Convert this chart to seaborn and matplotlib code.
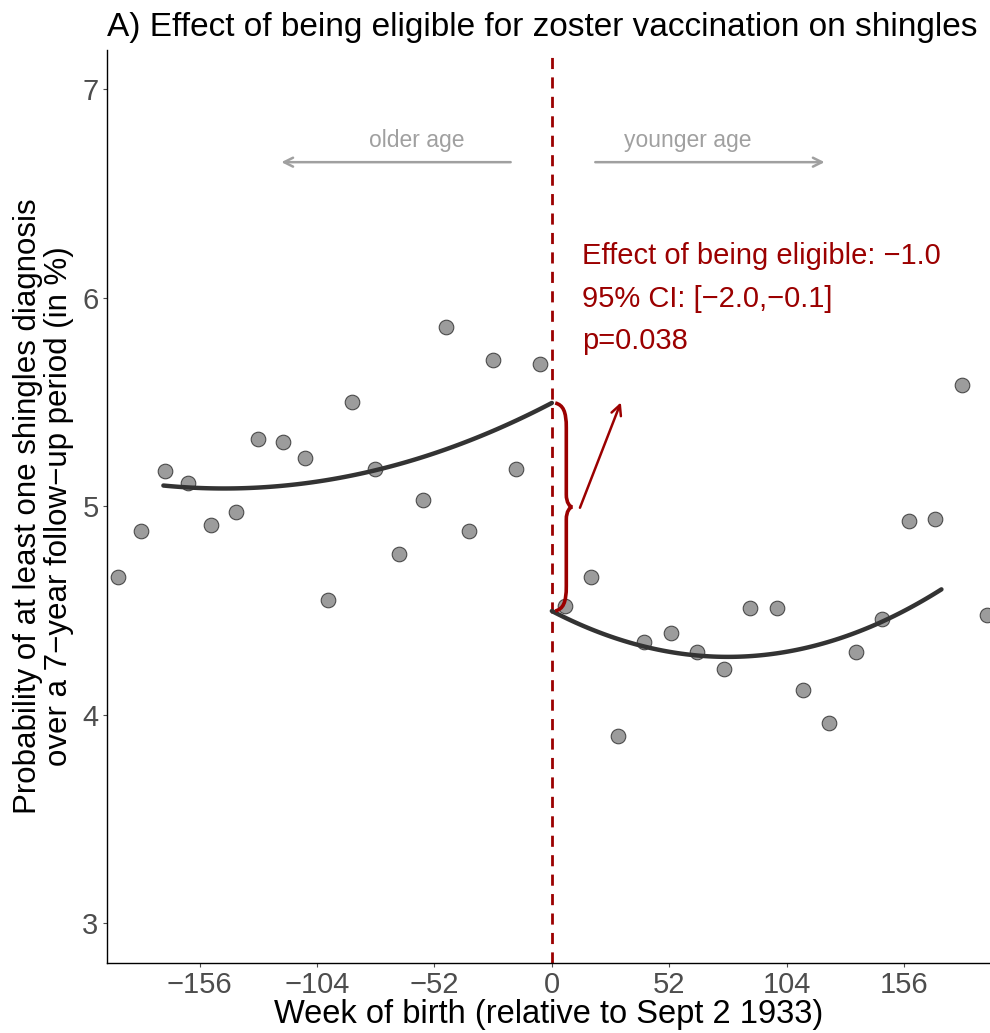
import numpy as np
import pandas as pd
import matplotlib
matplotlib.use("Agg")
import matplotlib.pyplot as plt
import seaborn as sns
from matplotlib.path import Path
from matplotlib.patches import PathPatch

# binned means, weeks relative to the cutoff
weeks_before = [-192.3, -182.1, -171.5, -161.3, -150.7, -140.0, -129.9, -119.2, -109.1, -98.9,
                -88.3, -78.1, -67.5, -56.9, -46.7, -36.5, -25.9, -15.7, -5.1]
prob_before = [4.66, 4.88, 5.17, 5.11, 4.91, 4.97, 5.32, 5.31, 5.23, 4.55,
               5.50, 5.18, 4.77, 5.03, 5.86, 4.88, 5.70, 5.18, 5.68]
weeks_after = [6.0, 17.5, 29.4, 40.9, 52.9, 64.4, 76.3, 87.8, 99.8, 111.3,
               122.8, 134.7, 146.2, 158.2, 169.7, 181.6, 192.7]
prob_after = [4.52, 4.66, 3.90, 4.35, 4.39, 4.30, 4.22, 4.51, 4.51, 4.12,
              3.96, 4.30, 4.46, 4.93, 4.94, 5.58, 4.48]

# fitted curve
fit_weeks_before = [-172, -145, -120, -100, -78, -50, -25, 0]
fit_before = [5.099, 5.085, 5.097, 5.124, 5.173, 5.261, 5.366, 5.495]
fit_weeks_after = [0, 20, 40, 60, 78, 100, 120, 146, 172.5]
fit_after = [4.497, 4.399, 4.329, 4.289, 4.277, 4.295, 4.341, 4.445, 4.601]

x_ticks = [-156, -104, -52, 0, 52, 104, 156]
y_ticks = [3, 4, 5, 6, 7]
effect_lines = ["Effect of being eligible: \u22121.0",
                "95% CI: [\u22122.0,\u22120.1]",
                "p=0.038"]

red = "#9B0000"
gray = "#a0a0a0"

sns.set_theme(style="ticks")
plt.rcParams["font.family"] = ["Liberation Sans", "DejaVu Sans"]

df = pd.DataFrame({
    "week": weeks_before + weeks_after,
    "prob": prob_before + prob_after,
})

fig = plt.figure(figsize=(9.9, 10.33), dpi=100)
ax = fig.add_axes([0.108, 0.068, 0.892, 0.884])

sns.scatterplot(data=df, x="week", y="prob", color="#9c9c9c", edgecolor="#4a4a4a",
                linewidth=0.8, s=110, ax=ax, zorder=3)

# quadratic fit curves on each side of the cutoff
for fx, fy in [(fit_weeks_before, fit_before), (fit_weeks_after, fit_after)]:
    sns.regplot(x=fx, y=fy, order=2, scatter=False, ci=None, truncate=True, ax=ax,
                line_kws=dict(color="#333333", lw=3.2, zorder=4))

top = fit_before[-1]
bottom = fit_after[0]

ax.axvline(0, color=red, lw=2, ls=(0, (4, 3)), zorder=2)

# curly brace between the two fitted values at the cutoff
mid = (top + bottom) / 2
x0, x1, x2 = 1.5, 6.4, 9.1
verts = [(x0, top), (5.0, top - 0.01), (x1, top - 0.04), (x1, top - 0.12),
         (x1, mid + 0.06),
         (x1, mid + 0.02), (8.0, mid), (x2, mid),
         (8.0, mid), (x1, mid - 0.02), (x1, mid - 0.06),
         (x1, bottom + 0.12),
         (x1, bottom + 0.04), (5.0, bottom + 0.01), (x0, bottom)]
codes = [Path.MOVETO, Path.CURVE4, Path.CURVE4, Path.CURVE4,
         Path.LINETO,
         Path.CURVE4, Path.CURVE4, Path.CURVE4,
         Path.CURVE4, Path.CURVE4, Path.CURVE4,
         Path.LINETO,
         Path.CURVE4, Path.CURVE4, Path.CURVE4]
ax.add_patch(PathPatch(Path(verts, codes), fill=False, edgecolor=red, lw=2.6, zorder=5))

ax.annotate("", xy=(31, 5.51), xytext=(12, 4.98),
            arrowprops=dict(arrowstyle="->", color=red, lw=1.8, mutation_scale=18))

for i, line in enumerate(effect_lines):
    ax.text(13.5, 6.2 - i * 0.205, line, color=red, fontsize=21, va="center", ha="left")

ax.annotate("", xy=(-121, 6.65), xytext=(-17, 6.65),
            arrowprops=dict(arrowstyle="->", color=gray, lw=1.8, mutation_scale=16))
ax.annotate("", xy=(122, 6.65), xytext=(18, 6.65),
            arrowprops=dict(arrowstyle="->", color=gray, lw=1.8, mutation_scale=16))
ax.text(-60, 6.755, "older age", color=gray, fontsize=16.5, ha="center", va="center")
ax.text(60, 6.755, "younger age", color=gray, fontsize=16.5, ha="center", va="center")

ax.set_xlim(-197, 194)
ax.set_ylim(2.81, 7.19)
ax.set_xticks(x_ticks)
ax.set_xticklabels([str(t).replace("-", "\u2212") for t in x_ticks])
ax.set_yticks(y_ticks)
ax.tick_params(labelsize=21, colors="#4d4d4d", length=3, width=0.8, pad=3)
for s in ["top", "right"]:
    ax.spines[s].set_visible(False)
for s in ["left", "bottom"]:
    ax.spines[s].set_color("black")
    ax.spines[s].set_linewidth(1.0)

ax.set_xlabel("Week of birth (relative to Sept 2 1933)", fontsize=23.5, color="black", labelpad=0)
ax.set_ylabel("Probability of at least one shingles diagnosis\nover a 7\u2212year follow\u2212up period (in %)",
              fontsize=22.5, color="black", labelpad=6, linespacing=1.05)
ax.set_title("A) Effect of being eligible for zoster vaccination on shingles",
             fontsize=24, loc="left", pad=10, color="black")

fig.savefig("out.png", dpi=100)
